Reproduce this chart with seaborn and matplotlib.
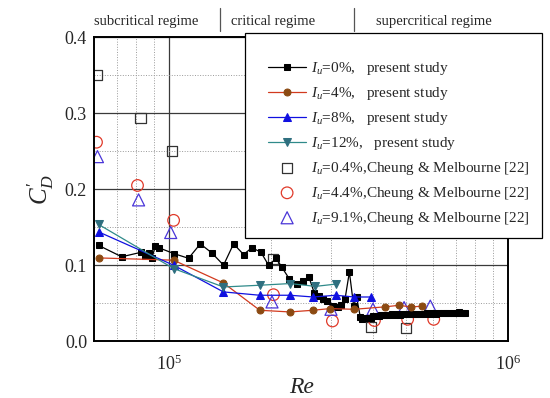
import numpy as np
import pandas as pd
import matplotlib
matplotlib.use("Agg")
import matplotlib.pyplot as plt
import matplotlib.ticker as mticker
import matplotlib.transforms as mtransforms
from matplotlib.patches import Rectangle
import seaborn as sns

# ---- data ----
re_0 = [6.19e4, 7.24e4, 8.27e4, 8.5e4, 8.69e4, 8.89e4, 9.09e4, 9.3e4, 1.035e5, 1.14e5,
        1.235e5, 1.336e5, 1.446e5, 1.548e5, 1.657e5, 1.753e5, 1.864e5, 1.963e5, 2.07e5,
        2.15e5, 2.26e5, 2.38e5, 2.48e5, 2.58e5, 2.68e5, 2.76e5, 2.84e5, 2.93e5, 3.04e5,
        3.14e5, 3.22e5, 3.3e5, 3.4e5, 3.5e5, 3.57e5, 3.66e5,
        3.70e5, 3.75e5, 3.80e5, 3.85e5, 3.90e5, 3.95e5, 4.00e5, 4.08e5, 4.15e5, 4.22e5,
        4.30e5, 4.38e5, 4.46e5, 4.55e5, 4.63e5, 4.72e5, 4.80e5, 4.90e5, 5.00e5, 5.10e5,
        5.20e5, 5.30e5, 5.40e5, 5.52e5, 5.64e5, 5.76e5, 5.88e5, 6.00e5, 6.13e5, 6.26e5,
        6.40e5, 6.55e5, 6.70e5, 6.85e5, 7.00e5, 7.15e5, 7.30e5, 7.46e5]
cd_0 = [0.126, 0.111, 0.117, 0.112, 0.116, 0.109, 0.125, 0.123, 0.115, 0.109,
        0.128, 0.116, 0.100, 0.128, 0.114, 0.123, 0.117, 0.100, 0.109,
        0.097, 0.082, 0.075, 0.079, 0.085, 0.063, 0.059, 0.056, 0.053, 0.046,
        0.045, 0.047, 0.055, 0.091, 0.046, 0.058, 0.032,
        0.0295, 0.0300, 0.0298, 0.0302, 0.0300, 0.0305, 0.0330, 0.0335, 0.0330, 0.0340,
        0.0338, 0.0345, 0.0340, 0.0350, 0.0345, 0.0352, 0.0348, 0.0350, 0.0355, 0.0352,
        0.0360, 0.0356, 0.0360, 0.0362, 0.0358, 0.0365, 0.0360, 0.0366, 0.0362, 0.0370,
        0.0366, 0.0372, 0.0368, 0.0374, 0.0370, 0.0376, 0.0372, 0.0375]

re_4 = [6.19e4, 1.03e5, 1.445e5, 1.85e5, 2.27e5, 2.65e5, 2.98e5, 3.51e5, 4.33e5, 4.75e5, 5.17e5, 5.57e5]
cd_4 = [0.1095, 0.1065, 0.0765, 0.0405, 0.0383, 0.0405, 0.0427, 0.0418, 0.045, 0.047, 0.045, 0.0458]

re_8 = [6.19e4, 1.03e5, 1.445e5, 1.85e5, 2.27e5, 2.66e5, 3.1e5, 3.51e5, 3.93e5]
cd_8 = [0.1438, 0.0999, 0.0647, 0.0603, 0.0603, 0.058, 0.0603, 0.058, 0.058]

re_12 = [6.19e4, 1.03e5, 1.445e5, 1.85e5, 2.27e5, 2.7e5, 3.1e5]
cd_12 = [0.1536, 0.0955, 0.0712, 0.0735, 0.0757, 0.072, 0.0750]

re_cm04 = [6.12e4, 8.23e4, 1.02e5, 2.02e5, 3.94e5, 5.0e5]
cd_cm04 = [0.3505, 0.294, 0.250, 0.108, 0.0185, 0.017]

re_cm44 = [6.1e4, 8.06e4, 1.03e5, 2.03e5, 3.03e5, 4.03e5, 5.05e5, 6.03e5]
cd_cm44 = [0.262, 0.205, 0.159, 0.061, 0.0264, 0.027, 0.0286, 0.0286]

re_cm91 = [6.14e4, 8.12e4, 1.01e5, 2.01e5, 3.0e5, 3.99e5, 4.93e5, 5.89e5]
cd_cm91 = [0.243, 0.186, 0.143, 0.0515, 0.0418, 0.042, 0.044, 0.046]

regimes = ["subcritical regime", "critical regime", "supercritical regime"]
regime_centers = [8.53e4, 2.03e5, 6.05e5]
regime_bounds = [1.41e5, 3.51e5]

# ---- style ----
sns.set_style("white")
plt.rcParams["font.family"] = ["Liberation Serif", "DejaVu Serif"]
plt.rcParams["mathtext.fontset"] = "custom"
plt.rcParams["mathtext.rm"] = "Liberation Serif"
plt.rcParams["mathtext.it"] = "Liberation Serif:italic"
plt.rcParams["mathtext.bf"] = "Liberation Serif:bold"

fig = plt.figure(figsize=(5.5, 3.98), dpi=100)
ax = fig.add_axes([0.171, 0.1432, 0.753, 0.7626])

# present study (lines with filled markers)
sns.lineplot(x=re_0, y=cd_0, sort=False, ax=ax, color="black", lw=0.9,
             marker="s", markersize=4.5, mec="black", mfc="black",
             label=r"$I_u$=0%,   present study")
sns.lineplot(x=re_4, y=cd_4, sort=False, ax=ax, color="#d23a1e", lw=0.9,
             marker="o", markersize=5, mec="#8b4a12", mfc="#8b4a12",
             label=r"$I_u$=4%,   present study")
sns.lineplot(x=re_8, y=cd_8, sort=False, ax=ax, color="#1010e0", lw=0.9,
             marker="^", markersize=5.5, mec="#1010e0", mfc="#1010e0",
             label=r"$I_u$=8%,   present study")
sns.lineplot(x=re_12, y=cd_12, sort=False, ax=ax, color="#2f8a8a", lw=0.9,
             marker="v", markersize=5.5, mec="#2f6f7f", mfc="#2f6f7f",
             label=r"$I_u$=12%,   present study")

# Cheung & Melbourne (open markers)
sns.scatterplot(x=re_cm04, y=cd_cm04, ax=ax, marker="s", s=55, facecolor="none",
                edgecolor="#333333", linewidth=0.9,
                label=r"$I_u$=0.4%,Cheung & Melbourne [22]")
sns.scatterplot(x=re_cm44, y=cd_cm44, ax=ax, marker="o", s=70, facecolor="none",
                edgecolor="#e03a2a", linewidth=0.9,
                label=r"$I_u$=4.4%,Cheung & Melbourne [22]")
sns.scatterplot(x=re_cm91, y=cd_cm91, ax=ax, marker="^", s=75, facecolor="none",
                edgecolor="#4a36d8", linewidth=0.9,
                label=r"$I_u$=9.1%,Cheung & Melbourne [22]")

# axes
ax.set_xscale("log")
ax.set_xlim(6e4, 1e6)
ax.set_ylim(0, 0.4)
ax.xaxis.set_major_locator(mticker.FixedLocator([1e5, 1e6]))
ax.xaxis.set_minor_locator(mticker.LogLocator(base=10, subs=np.arange(2, 10)))
ax.xaxis.set_minor_formatter(mticker.NullFormatter())
ax.yaxis.set_major_locator(mticker.MultipleLocator(0.1))
ax.yaxis.set_minor_locator(mticker.MultipleLocator(0.05))
ax.yaxis.set_major_formatter(mticker.FormatStrFormatter("%.1f"))

ax.grid(which="major", color="#3a3a3a", lw=0.9, ls="-")
ax.grid(which="minor", color="#9a9a9a", lw=0.7, ls=":")
ax.set_axisbelow(True)
ax.tick_params(which="both", length=0, labelsize=13)
ax.tick_params(axis="x", pad=10)
ax.tick_params(axis="y", pad=5)
for sp in ax.spines.values():
    sp.set_color("black")
    sp.set_linewidth(1.4)

ax.set_xlabel("Re", fontsize=17, style="italic", labelpad=2)
ax.set_ylabel(r"$C_D^{\prime}$", fontsize=18, labelpad=6)

# regime annotations above the plot
trans = mtransforms.blended_transform_factory(ax.transData, ax.transAxes)
for name, xc in zip(regimes, regime_centers):
    ax.text(xc, 1.054, name, transform=trans, ha="center", va="center",
            fontsize=10.5, clip_on=False)
for xb in regime_bounds:
    ax.plot([xb, xb], [1.02, 1.097], transform=trans, color="#555555", lw=0.9,
            clip_on=False)

# legend: separate frame (sticks out past the right spine) + frameless legend on top
handles, labels = ax.get_legend_handles_labels()
ax.get_legend().remove()
fig.patches.append(Rectangle((0.4455, 0.402), 0.54, 0.515, transform=fig.transFigure,
                             facecolor="white", edgecolor="black", lw=0.9, zorder=3))
leg = fig.legend(handles, labels, loc="upper left", bbox_to_anchor=(0.4873, 0.849),
                 fontsize=11.0, frameon=False, handlelength=2.5, handletextpad=0.3,
                 labelspacing=0.52, borderpad=0, borderaxespad=0)
leg.set_zorder(5)

fig.savefig("out.png", dpi=100)
